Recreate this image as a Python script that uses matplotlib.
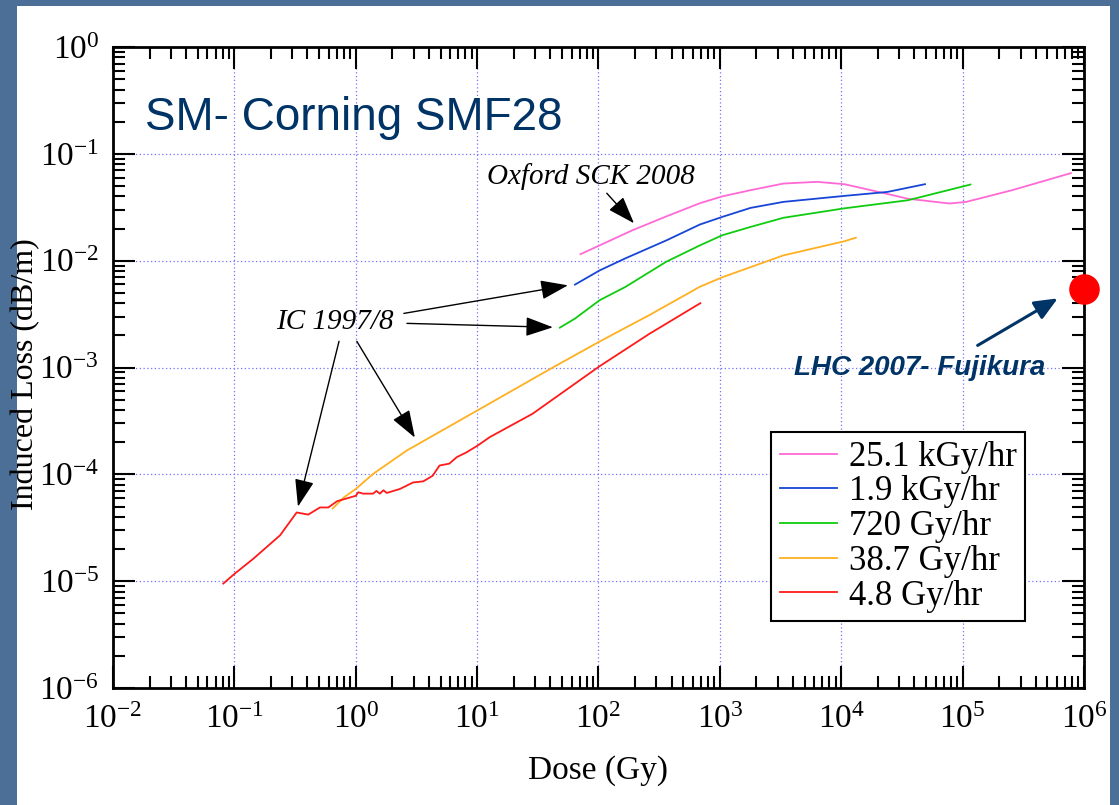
import numpy as np
import matplotlib
matplotlib.use('Agg')
import matplotlib.pyplot as plt
from matplotlib.patches import Rectangle
from matplotlib.ticker import FixedLocator, NullFormatter

plt.rcParams['font.family'] = ['Liberation Serif', 'DejaVu Serif']
plt.rcParams['mathtext.fontset'] = 'custom'
plt.rcParams['mathtext.rm'] = 'Liberation Serif'
plt.rcParams['mathtext.it'] = 'Liberation Serif:italic'

# --- data (dose in Gy, induced loss in dB/m) ---
pink_dose = [71, 102, 191, 363, 684, 1047, 1790, 3330, 6300, 10600, 19000, 35500, 78000, 107000, 256000, 780000]
pink_loss = [0.0115, 0.0139, 0.0193, 0.026, 0.0345, 0.040, 0.0457, 0.0527, 0.0547, 0.052, 0.0448, 0.038, 0.0343, 0.0355, 0.0457, 0.066]

blue_dose = [64, 102, 166, 363, 684, 1047, 1790, 3330, 10600, 24000, 49000]
blue_loss = [0.00597, 0.0081, 0.0105, 0.0155, 0.0218, 0.0257, 0.0312, 0.0355, 0.0404, 0.044, 0.052]

green_dose = [48, 64, 102, 166, 363, 684, 1047, 1790, 3330, 10600, 35500, 116000]
green_loss = [0.00236, 0.00287, 0.00426, 0.00567, 0.0098, 0.0139, 0.0173, 0.0207, 0.0252, 0.0309, 0.0368, 0.0516]

orange_dose = [0.646, 0.8, 1.0, 1.39, 2.63, 10.1, 42, 101, 263, 684, 1047, 3330, 10600, 13200]
orange_loss = [4.8e-5, 6.1e-5, 7.3e-5, 1.01e-4, 1.67e-4, 3.98e-4, 1.0e-3, 1.74e-3, 3.1e-3, 5.7e-3, 7.0e-3, 0.0112, 0.0152, 0.0164]

red_dose = [0.081, 0.1, 0.143, 0.238, 0.326, 0.406, 0.507, 0.594, 0.70, 1.0, 1.05, 1.15, 1.39, 1.48,
            1.58, 1.69, 1.80, 2.31, 2.97, 3.6, 4.3, 4.9, 5.9, 6.8, 8.2, 10.1, 12.7, 28.6, 101, 263, 690]
red_loss = [9.5e-6, 1.17e-5, 1.62e-5, 2.69e-5, 4.4e-5, 4.2e-5, 4.9e-5, 4.9e-5, 5.6e-5, 6.3e-5, 6.8e-5, 6.6e-5, 6.6e-5, 7.0e-5,
            6.6e-5, 7.1e-5, 6.7e-5, 7.3e-5, 8.4e-5, 8.6e-5, 9.7e-5, 1.21e-4, 1.26e-4, 1.45e-4, 1.61e-4, 1.86e-4, 2.23e-4, 3.69e-4, 1.02e-3, 2.07e-3, 4.0e-3]

lhc_dose = [1e6]
lhc_loss = [5.4e-3]

x_decades = list(range(-2, 7))
y_decades = list(range(-6, 1))

series = [
    ('25.1 kGy/hr', pink_dose, pink_loss, '#ff6ad5'),
    ('1.9 kGy/hr', blue_dose, blue_loss, '#1745d6'),
    ('720 Gy/hr', green_dose, green_loss, '#10cc10'),
    ('38.7 Gy/hr', orange_dose, orange_loss, '#ffb020'),
    ('4.8 Gy/hr', red_dose, red_loss, '#ff1a1a'),
]

fig = plt.figure(figsize=(11.19, 8.05), dpi=100, facecolor='#4c6f97')
# white slide panel
fig.patches.append(Rectangle((17 / 1119, 0), (1110 - 17) / 1119, (805 - 6) / 805,
                             transform=fig.transFigure, facecolor='white',
                             edgecolor='none', zorder=-5))

ax = fig.add_axes([0.101, 0.1453, 0.8677, 0.7963])
ax.set_xscale('log')
ax.set_yscale('log')

for lab, xd, yd, c in series:
    ax.plot(xd, yd, color=c, lw=1.3, label=lab)

ax.plot(lhc_dose, lhc_loss, 'o', color='#ff0000', ms=21, clip_on=False, zorder=10)


def decade_ticks(axis, decades):
    major = [10.0 ** k for k in decades]
    minor = [m * 10.0 ** k for k in decades[:-1] for m in range(2, 10)]
    axis.set_major_locator(FixedLocator(major))
    axis.set_minor_locator(FixedLocator(minor))
    axis.set_minor_formatter(NullFormatter())


decade_ticks(ax.xaxis, x_decades)
decade_ticks(ax.yaxis, y_decades)
ax.set_xlim(10.0 ** x_decades[0], 10.0 ** x_decades[-1])
ax.set_ylim(10.0 ** y_decades[0], 10.0 ** y_decades[-1])

for sp in ax.spines.values():
    sp.set_linewidth(2)
ax.tick_params(which='both', direction='in', top=True, right=True, width=1.5)
ax.tick_params(which='major', length=16, pad=10, labelsize=24)
ax.tick_params(which='minor', length=8.5)
ax.tick_params(axis='x', which='major', pad=12)
ax.grid(True, which='major', color='#7272ff', linestyle=(0, (1, 2)), linewidth=0.9)
ax.set_axisbelow(True)

ax.set_xlabel('Dose (Gy)', fontsize=24)
ax.set_ylabel('Induced Loss (dB/m)', fontsize=23)
ax.xaxis.set_label_coords(0.5, -0.105)
ax.yaxis.set_label_coords(-0.075, 0.49)

# title inside the plot
ax.text(0.033, 0.8705, 'SM- Corning SMF28', transform=ax.transAxes, fontsize=33,
        family='Liberation Sans', color='#003366', ha='left', va='baseline')

# annotations
ax.text(86, 0.062, 'Oxford SCK 2008', fontsize=21, style='italic', ha='center', va='center')
ax.text(0.675, 2.65e-3, 'IC 1997/8', fontsize=21, style='italic', ha='center', va='center')
ax.text(4.44e4, 9.8e-4, 'LHC 2007- Fujikura', fontsize=20, family='Liberation Sans',
        weight='bold', style='italic', color='#003366', ha='center', va='center')

black_arrow = dict(arrowstyle='-|>,head_length=0.85,head_width=0.3', color='black',
                   lw=1, mutation_scale=20, shrinkA=0, shrinkB=0)
ax.annotate('', xy=(196, 0.0224), xytext=(117, 0.0428), arrowprops=black_arrow)
ax.annotate('', xy=(56.0, 5.88e-3), xytext=(2.49, 3.21e-3), arrowprops=black_arrow)
ax.annotate('', xy=(42.1, 2.38e-3), xytext=(2.64, 2.59e-3), arrowprops=black_arrow)
ax.annotate('', xy=(0.334, 4.99e-5), xytext=(0.728, 1.76e-3), arrowprops=black_arrow)
ax.annotate('', xy=(3.07, 2.21e-4), xytext=(1.02, 1.76e-3), arrowprops=black_arrow)
ax.annotate('', xy=(6.08e5, 4.44e-3), xytext=(1.33e5, 1.61e-3),
            arrowprops=dict(arrowstyle='-|>,head_length=0.7,head_width=0.3', color='#003366',
                            lw=2.2, mutation_scale=20, shrinkA=0, shrinkB=0))

leg = ax.legend(loc='upper left', bbox_to_anchor=(0.6777, 0.3994), borderaxespad=0,
                fontsize=25, handlelength=1.64, handletextpad=0.35, borderpad=0.25,
                labelspacing=0.05, fancybox=False, framealpha=1, edgecolor='black')
leg.get_frame().set_linewidth(1.5)

fig.savefig('out.png', dpi=100, facecolor=fig.get_facecolor())
